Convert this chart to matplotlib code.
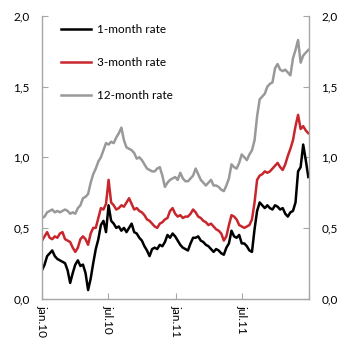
import numpy as np
import pandas as pd
import matplotlib
matplotlib.use('Agg')
import matplotlib.pyplot as plt
from matplotlib.ticker import FuncFormatter

plt.rcParams['font.family'] = ['Lato', 'DejaVu Sans']

# Weekly observations, jan. 2010 - dec. 2011
datoer = pd.date_range('2010-01-01', periods=105, freq='7D')

rente_1m = [0.20, 0.24, 0.30, 0.32, 0.34, 0.30, 0.28, 0.27, 0.26, 0.25,
            0.20, 0.11, 0.18, 0.24, 0.27, 0.23, 0.24, 0.18, 0.06, 0.14,
            0.25, 0.35, 0.42, 0.52, 0.55, 0.47, 0.66, 0.55, 0.53, 0.50,
            0.51, 0.48, 0.50, 0.47, 0.50, 0.53, 0.47, 0.46, 0.43, 0.41,
            0.37, 0.34, 0.30, 0.35, 0.36, 0.35, 0.38, 0.37, 0.40, 0.45,
            0.43, 0.46, 0.44, 0.41, 0.38, 0.36, 0.35, 0.34, 0.39, 0.43,
            0.43, 0.44, 0.41, 0.40, 0.38, 0.37, 0.35, 0.33, 0.35, 0.34,
            0.32, 0.31, 0.36, 0.39, 0.48, 0.44, 0.43, 0.45, 0.39, 0.39,
            0.37, 0.34, 0.33, 0.49, 0.62, 0.68, 0.66, 0.64, 0.66, 0.64,
            0.63, 0.66, 0.65, 0.63, 0.64, 0.60, 0.58, 0.61, 0.62, 0.68,
            0.90, 0.93, 1.09, 0.98, 0.86]

rente_3m = [0.41, 0.44, 0.47, 0.43, 0.42, 0.44, 0.43, 0.46, 0.47, 0.42,
            0.41, 0.40, 0.36, 0.33, 0.36, 0.42, 0.44, 0.42, 0.38, 0.46,
            0.50, 0.50, 0.57, 0.64, 0.63, 0.67, 0.84, 0.68, 0.66, 0.63,
            0.64, 0.66, 0.65, 0.68, 0.71, 0.67, 0.63, 0.64, 0.62, 0.61,
            0.59, 0.56, 0.55, 0.53, 0.51, 0.50, 0.53, 0.54, 0.56, 0.57,
            0.62, 0.64, 0.60, 0.58, 0.59, 0.57, 0.58, 0.58, 0.60, 0.63,
            0.61, 0.58, 0.57, 0.55, 0.54, 0.52, 0.53, 0.51, 0.49, 0.48,
            0.46, 0.41, 0.44, 0.52, 0.59, 0.58, 0.56, 0.52, 0.51, 0.50,
            0.51, 0.52, 0.56, 0.68, 0.84, 0.87, 0.88, 0.90, 0.89, 0.90,
            0.92, 0.94, 0.96, 0.93, 0.91, 0.95, 1.01, 1.06, 1.12, 1.22,
            1.30, 1.20, 1.22, 1.19, 1.17]

rente_12m = [0.57, 0.58, 0.61, 0.62, 0.63, 0.61, 0.62, 0.61, 0.62, 0.63,
             0.62, 0.60, 0.61, 0.60, 0.64, 0.66, 0.71, 0.72, 0.74, 0.82,
             0.88, 0.92, 0.97, 1.00, 1.05, 1.10, 1.09, 1.11, 1.10, 1.14,
             1.17, 1.21, 1.12, 1.07, 1.06, 1.05, 1.03, 0.99, 1.00, 0.98,
             0.95, 0.92, 0.91, 0.90, 0.90, 0.92, 0.93, 0.87, 0.79, 0.82,
             0.84, 0.85, 0.86, 0.84, 0.89, 0.85, 0.83, 0.83, 0.85, 0.87,
             0.92, 0.88, 0.84, 0.82, 0.80, 0.82, 0.84, 0.80, 0.80, 0.79,
             0.77, 0.76, 0.80, 0.85, 0.95, 0.93, 0.92, 0.96, 1.02, 1.00,
             0.98, 1.02, 1.05, 1.12, 1.29, 1.41, 1.43, 1.45, 1.50, 1.52,
             1.53, 1.63, 1.66, 1.62, 1.61, 1.62, 1.60, 1.58, 1.70, 1.76,
             1.83, 1.67, 1.72, 1.74, 1.76]

etiketter = ['1-month rate', '3-month rate', '12-month rate']
farger = ['#000000', '#c8262c', '#999999']

fig = plt.figure(figsize=(3.5, 3.56), dpi=100)
ax = fig.add_axes([0.12, 0.1615, 0.763, 0.7935])

for serie, navn, farge in zip([rente_1m, rente_3m, rente_12m], etiketter, farger):
    ax.plot(datoer, serie, color=farge, lw=1.8, label=navn)

ax.set_xlim(pd.Timestamp('2010-01-01'), pd.Timestamp('2012-01-01'))
ax.set_ylim(0, 2.0)

akse_farge = '#a6a6a6'
for s in ['left', 'right', 'bottom']:
    ax.spines[s].set_color(akse_farge)
    ax.spines[s].set_linewidth(1.0)
ax.spines['top'].set_visible(False)

komma = FuncFormatter(lambda v, p: f'{v:.1f}'.replace('.', ','))
ax.set_yticks(np.arange(0, 2.01, 0.5))
ax.yaxis.set_major_formatter(komma)
ax.tick_params(axis='y', which='both', direction='in', length=4, color=akse_farge,
               labelsize=8.5, left=True, right=True, labelleft=True, labelright=True, pad=9)

xticks = pd.to_datetime(['2010-01-01', '2010-07-01', '2011-01-01', '2011-07-01', '2012-01-01'])
ax.set_xticks(xticks)
ax.set_xticklabels(['jan.10', 'jul.10', 'jan.11', 'jul.11', ''], rotation=-90, fontsize=8.5)
ax.tick_params(axis='x', direction='in', length=4, color=akse_farge, pad=5)

ax.legend(loc='upper left', bbox_to_anchor=(0.03, 1.008), frameon=False, fontsize=8.5,
          handlelength=2.6, handletextpad=0.5, labelspacing=1.85)

fig.savefig('out.png', dpi=100)
